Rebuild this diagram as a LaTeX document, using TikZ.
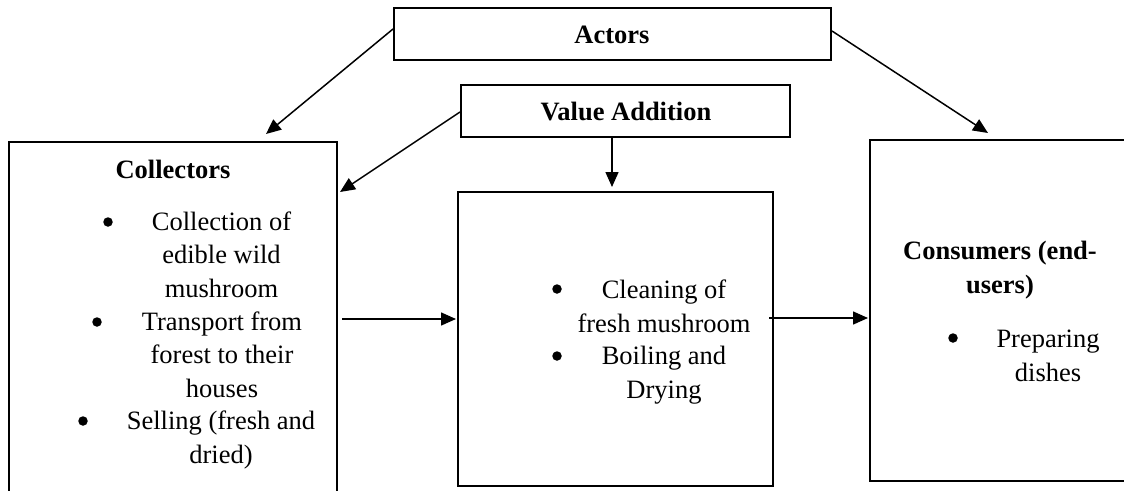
\documentclass[tikz,border=0pt]{standalone}
\usepackage{fontspec}
\setmainfont{Liberation Serif}
\usetikzlibrary{arrows.meta,calc}
\begin{document}
\begin{tikzpicture}[x=1pt,y=-1pt,
  box/.style={draw=black,line width=2pt,inner sep=0pt},
  conn/.style={line width=1.5pt,-{Triangle[length=15pt,width=13pt]}},
  txt/.style={inner sep=0pt,anchor=base,align=center,font=\fontsize{26.5}{33.2}\selectfont},
  btxt/.style={txt,font=\fontsize{26.5}{33.2}\selectfont\bfseries},
  bul/.style={circle,fill=black,inner sep=0pt,minimum size=9.5pt}]
\useasboundingbox (0,0) rectangle (1124,490);
\clip (0,0) rectangle (1124,490);
% boxes
\node[box,minimum width=437pt,minimum height=52pt] (actors) at (612.5,34) {};
\node[box,minimum width=329pt,minimum height=52pt] (va) at (625.5,111) {};
\node[box,minimum width=328pt,minimum height=368pt] (coll) at (173,326) {};
\node[box,minimum width=315pt,minimum height=294pt] (mid) at (615.5,339) {};
\node[box,minimum width=265pt,minimum height=341pt] (cons) at (1002.5,310.5) {};
% texts (anchor = baseline of the last line)
\node[btxt] (tact) at (612,43) {Actors};
\node[btxt] (tva) at (626,120) {Value Addition};
\node[btxt] (tcoll) at (173,178) {Collectors};
\node[bul] (b1) at (108,222) {};
\node[txt] (c1) at (221.5,297) {Collection of\\edible wild\\mushroom};
\node[bul] (b2) at (97,322) {};
\node[txt] (c2) at (222,397) {Transport from\\forest to their\\houses};
\node[bul] (b3) at (83,421) {};
\node[txt] (c3) at (221,463) {Selling (fresh and\\dried)};
\node[bul] (b4) at (557,289) {};
\node[txt] (m1) at (664,332) {Cleaning of\\fresh mushroom};
\node[bul] (b5) at (557,356) {};
\node[txt] (m2) at (664,398) {Boiling and\\Drying};
\node[btxt] (tcons) at (1000,293) {Consumers (end-\\users)};
\node[bul] (b6) at (953,338) {};
\node[txt] (k1) at (1048,381) {Preparing\\dishes};
% connector end points
\coordinate (a1) at ($(actors.north west)+(0,22)$);
\coordinate (a1e) at ($(coll.north west)+(258,-7)$);
\coordinate (a2) at ($(actors.north east)+(0,24)$);
\coordinate (a2e) at ($(cons.north west)+(119,-6)$);
\coordinate (v1) at ($(va.north west)+(0,28)$);
\coordinate (v1e) at ($(coll.north east)+(2,51)$);
\coordinate (v2) at ($(va.south west)+(152,0)$);
\coordinate (v2e) at ($(mid.north west)+(155,-4)$);
\coordinate (h1) at ($(coll.north east)+(4,178)$);
\coordinate (h1e) at ($(mid.north west)+(-1,128)$);
\coordinate (h2) at ($(mid.north east)+(-5,127)$);
\coordinate (h2e) at ($(cons.north west)+(-1,179)$);
\draw[conn] (a1) -- (a1e);
\draw[conn] (a2) -- (a2e);
\draw[conn] (v1) -- (v1e);
\draw[conn] (v2) -- (v2e);
\draw[conn] (h1) -- (h1e);
\draw[conn] (h2) -- (h2e);
\end{tikzpicture}
\end{document}
